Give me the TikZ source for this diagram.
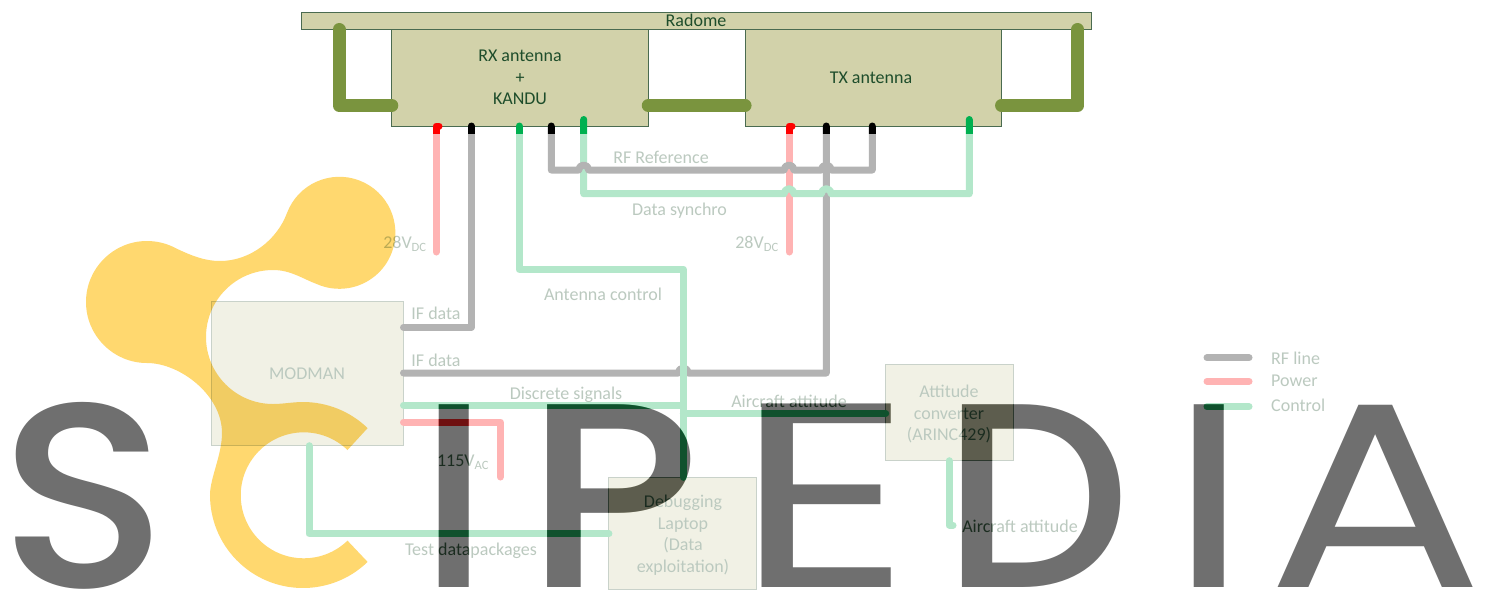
\documentclass[tikz,border=0pt]{standalone}
\usepackage{fontspec}
\setmainfont{Carlito}
\newfontfamily\wmfont{Poppins Medium}
\newfontfamily\wmthin{Poppins}
\definecolor{shell}{HTML}{D2D2AA}
\definecolor{edge}{HTML}{4A6B50}
\definecolor{ink}{HTML}{1E4D2B}
\definecolor{olive}{HTML}{7A943E}
\definecolor{ctrl}{HTML}{00B050}
\definecolor{logo}{HTML}{FFD86F}
\tikzset{
  unit/.style={draw=edge,line width=1pt,fill=shell,text=ink,align=center,inner sep=0pt,outer sep=0pt},
  lab/.style={text=ink,font=\fontsize{18}{21.5}\selectfont,align=center,inner sep=0pt},
  mount/.style={draw=olive,line width=13pt,line cap=round,line join=round},
  rfline/.style={draw=black,line width=7pt,line cap=round,line join=round},
  powerline/.style={draw=red,line width=7pt,line cap=round,line join=round},
  ctrlline/.style={draw=ctrl,line width=7pt,line cap=round,line join=round},
  hop/.style={start angle=180,end angle=360,x radius=5,y radius=5},
  wm/.style={inner sep=0pt,anchor=base}
}
\begin{document}
\begin{tikzpicture}[x=1pt,y=-1pt]
  \useasboundingbox (0,0) rectangle (1485,590);
  \fill[white] (0,0) rectangle (1485,590);
  % boxes
  \node[unit,minimum width=790pt,minimum height=17pt] (radome) at (696.5,21) {};
  \node[lab] (radname) at (696,20) {Radome};
  \node[unit,lab,minimum width=256.5pt,minimum height=97pt] (rx) at (520,77.5) {RX antenna\\+\\KANDU};
  \node[unit,lab,minimum width=256.5pt,minimum height=97pt] (tx) at (873.3,77.5) {};
  \node[lab] (txname) at (871,77.5) {TX antenna};
  \node[unit,minimum width=192pt,minimum height=144pt] (modman) at (307.5,373.7) {};
  \node[unit,minimum width=147.7pt,minimum height=112pt] (laptop) at (682.8,533.4) {};
  \node[unit,minimum width=127.6pt,minimum height=96.4pt] (attitude) at (949.5,412.5) {};
  % ports
  \coordinate (rxpow) at (436,126);
  \coordinate (rxif) at (471.3,126);
  \coordinate (rxant) at (519,126);
  \coordinate (rxref) at (551.3,126);
  \coordinate (rxsync) at (583.7,119.5);
  \coordinate (txpow) at (789,126);
  \coordinate (txif) at (826.3,126);
  \coordinate (txref) at (872.3,126);
  \coordinate (txsync) at (969.3,119.5);
  % mounts
  \draw[mount] (339,29.5) |- (rx.west |- 0,105.5);
  \draw[mount] (rx.east |- 0,105.5) -- (tx.west |- 0,105.5);
  \draw[mount] (tx.east |- 0,105.5) -| (1077.7,29.5);
  % lines
  \draw[rfline] (rxif) |- (modman.east |- 0,327.3);
  \draw[rfline] (modman.east |- 0,373) -- (678.3,373) arc[hop] -| (txif);
  \draw[powerline] (439,126) -| (436,252);
  \draw[powerline] (792,126) -| (txpow) -- (789,252);
  \draw[powerline] (modman.east |- 0,422) -| (500.4,477);
  \draw[ctrlline] (rxant) |- (683.3,269.3) -- (laptop.north -| 683.3,0);
  \draw[ctrlline] (modman.east |- 0,405) -- (683.3,405);
  \draw[ctrlline] (683.3,413.5) -- (attitude.west |- 0,413.5);
  \draw[ctrlline] (modman.south -| 309,0) |- (laptop.west |- 0,533.7);
  \draw[ctrlline] (attitude.south -| 949,0) |- (953,525);
  \draw[ctrlline] (rxsync) |- (784,193.7) arc[hop] -- (821.3,193.7) arc[hop] -| (txsync);
  \draw[rfline] (rxref) |- (578.7,170) arc[hop] -- (784,170) arc[hop] -- (821.3,170) arc[hop] -| (txref);
  % legend
  \coordinate (lgrfa) at (1207,357.7);
  \coordinate (lgrfb) at (1249,357.7);
  \coordinate (lgpowa) at (1207,381.3);
  \coordinate (lgpowb) at (1249,381.3);
  \coordinate (lgctrla) at (1207,406.7);
  \coordinate (lgctrlb) at (1249,406.7);
  \draw[rfline] (lgrfa) -- (lgrfb);
  \draw[powerline] (lgpowa) -- (lgpowb);
  \draw[ctrlline] (lgctrla) -- (lgctrlb);
  % labels
  \node[lab,anchor=west] (lgrf) at (1271,358) {RF line};
  \node[lab,anchor=west] (lgpow) at (1271,381) {Power};
  \node[lab,anchor=west] (lgctrl) at (1271,405) {Control};
  \node[lab] (rfref) at (661,157) {RF Reference};
  \node[lab] (sync) at (679.5,211) {Data synchro};
  \node[lab] (dcleft) at (405,244) {28V\textsubscript{DC}};
  \node[lab] (dcright) at (757,244) {28V\textsubscript{DC}};
  \node[lab] (ifone) at (436,313) {IF data};
  \node[lab] (iftwo) at (436,360) {IF data};
  \node[lab] (antctrl) at (603,294) {Antenna control};
  \node[lab] (modname) at (307,374) {MODMAN};
  \node[lab] (discrete) at (566,395) {Discrete signals};
  \node[lab] (airone) at (789,401) {Aircraft attitude};
  \node[lab] (attname) at (949,414) {Attitude\\converter\\(ARINC429)};
  \node[lab] (airtwo) at (1020,526) {Aircraft attitude};
  \node[lab] (ac) at (463,462) {115V\textsubscript{AC}};
  \node[lab] (tests) at (471,551) {Test datapackages};
  \node[lab] (lapname) at (683,535) {Debugging\\Laptop\\(Data\\exploitation)};
  % veil
  \fill[white,opacity=0.7] (0,134) rectangle (1485,590);
  % logo
  \fill[logo,blend mode=multiply] (287,213) arc (200.7:474:56)
    .. controls (303,279) and (291,270) .. (273,270) arc (270:90:67)
    .. controls (283,404) and (293,402) .. (303,402) arc (270:314:93)
    -- (347.5,450) arc (314:46:63) -- (367.6,561.9) arc (46:180:93)
    .. controls (210,478) and (222,455) .. (222,433)
    .. controls (222,395) and (180,363) .. (147,363) arc (90:298:61)
    .. controls (192,256) and (205,261) .. (220,261)
    .. controls (250,261) and (277,240) .. (287,213) -- cycle;
  % letters
  \foreach \x/\lab/\nm/\sx/\fam in {84/S/wms/1.06/\wmfont, 454/I/wmi/1/\wmfont, 613/P/wmp/1.12/\wmfont, 824/E/wme/1.31/\wmthin, 1037/D/wmd/1.01/\wmfont, 1209/I/wmj/1/\wmfont, 1376/A/wma/1.22/\wmthin} {
    \node[wm,text=black!65,blend mode=color burn] (\nm a) at (\x,587) {\fam\fontsize{263}{263}\selectfont\scalebox{\sx}[1]{\lab}};
    \node[wm,text=black!56.5,blend mode=multiply] (\nm) at (\x,587) {\fam\fontsize{263}{263}\selectfont\scalebox{\sx}[1]{\lab}};
  }
\end{tikzpicture}
\end{document}
